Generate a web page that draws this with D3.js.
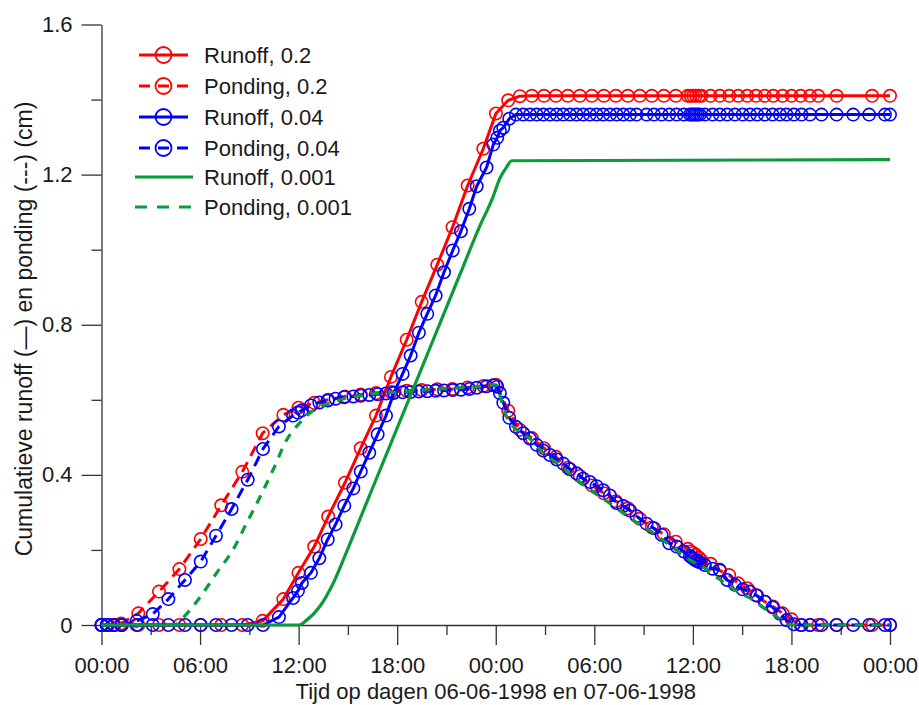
<!DOCTYPE html>
<html>
<head>
<meta charset="utf-8">
<script src="https://cdn.jsdelivr.net/npm/d3@7"></script>
<style>
  html, body { margin: 0; padding: 0; background: #fff; }
  svg text { font-family: "Liberation Sans", Arial, sans-serif; fill: #1a1a1a; }
</style>
</head>
<body>
<svg id="chart" width="919" height="705"></svg>
<script>
// Time in hours since 06-06-1998 00:00; values in cm.

// Case 0.2 (output times shared by runoff and ponding)
const redTime = [0, 0.40, 0.79, 1.19, 2.24, 3.50, 4.74, 6.04, 7.29, 8.57, 9.81, 11.07, 11.99, 12.95, 13.80,
  14.82, 15.78, 16.71, 17.62, 18.58, 19.49, 20.44, 21.37, 22.29, 23.24, 24.01, 24.76, 25.47,
  26.20, 26.94, 27.66, 28.39, 29.12, 29.85, 30.58, 31.31, 32.04, 32.77, 33.50, 34.23, 34.96, 35.69,
  35.86, 36.02, 36.18, 36.38, 36.53, 37.08, 37.64, 38.21, 38.76, 39.31, 39.84, 40.38, 40.89, 41.46,
  42.01, 42.56, 43.13, 43.63, 44.75, 46.91, 48.00];
const redRunoff = [0, 0, 0, 0, 0, 0, 0, 0, 0, 0, 0.011, 0.069, 0.139, 0.209, 0.289,
  0.379, 0.471, 0.558, 0.661, 0.76, 0.861, 0.96, 1.06, 1.171, 1.269, 1.363, 1.398, 1.409,
  1.41, 1.41, 1.41, 1.41, 1.41, 1.41, 1.41, 1.41, 1.41, 1.41, 1.41, 1.41, 1.41, 1.41,
  1.41, 1.41, 1.41, 1.41, 1.41, 1.41, 1.41, 1.41, 1.41, 1.41, 1.41, 1.41, 1.41, 1.41,
  1.41, 1.41, 1.41, 1.41, 1.41, 1.41, 1.41];
const redPonding = [0, 0, 0, 0.004, 0.031, 0.089, 0.149, 0.229, 0.319, 0.408, 0.511, 0.56, 0.579, 0.592, 0.6,
  0.609, 0.614, 0.618, 0.621, 0.624, 0.626, 0.628, 0.629, 0.633, 0.637, 0.64, 0.571, 0.52,
  0.498, 0.471, 0.448, 0.419, 0.397, 0.372, 0.351, 0.33, 0.311, 0.283, 0.26, 0.242, 0.222, 0.203,
  0.196, 0.192, 0.187, 0.179, 0.172, 0.163, 0.145, 0.133, 0.111, 0.098, 0.08, 0.062, 0.049, 0.031,
  0.015, 0, 0, 0, 0, 0, 0];

// Case 0.04
const blueTime = [0, 0.32, 0.72, 1.23, 2.14, 3.12, 4.07, 5.08, 6.04, 6.97, 7.92, 8.90, 9.83, 10.80, 11.66,
  11.96, 12.20, 12.75, 13.26, 13.77, 14.25, 14.78, 15.33, 15.78, 16.30, 16.81, 17.32, 17.80, 18.33, 18.82,
  19.32, 19.83, 20.34, 20.85, 21.38, 21.88, 22.39, 22.84, 23.44, 23.85, 24.09, 24.25, 24.46, 24.82, 25.23,
  25.67, 26.08, 26.49, 26.89, 27.30, 27.71, 28.11, 28.52, 28.92, 29.32, 29.73, 30.14, 30.54, 30.95, 31.36,
  31.76, 32.17, 32.57, 33.18, 33.63, 34.10, 34.56, 35.01, 35.45, 35.82, 35.94, 36.06, 36.18, 36.30, 36.42,
  36.73, 37.20, 37.64, 38.09, 38.56, 39.03, 39.47, 39.91, 40.38, 40.85, 41.30, 41.70, 42.15, 42.62, 43.13,
  43.83, 44.75, 45.76, 46.73, 47.69, 48.00];
const blueRunoff = [0, 0, 0, 0, 0, 0, 0, 0, 0, 0, 0, 0, 0, 0.021, 0.072,
  0.091, 0.112, 0.139, 0.178, 0.228, 0.268, 0.318, 0.364, 0.409, 0.459, 0.508, 0.558, 0.619, 0.669, 0.718,
  0.779, 0.829, 0.878, 0.94, 0.998, 1.049, 1.109, 1.169, 1.219, 1.28, 1.298, 1.317, 1.325, 1.349, 1.36,
  1.36, 1.36, 1.36, 1.36, 1.36, 1.36, 1.36, 1.36, 1.36, 1.36, 1.36, 1.36, 1.36, 1.36, 1.36,
  1.36, 1.36, 1.36, 1.36, 1.36, 1.36, 1.36, 1.36, 1.36, 1.36, 1.36, 1.36, 1.36, 1.36, 1.36,
  1.36, 1.36, 1.36, 1.36, 1.36, 1.36, 1.36, 1.36, 1.36, 1.36, 1.36, 1.36, 1.36, 1.36, 1.36,
  1.36, 1.36, 1.36, 1.36, 1.36, 1.36];
const bluePonding = [0, 0, 0, 0, 0.011, 0.029, 0.069, 0.12, 0.169, 0.238, 0.309, 0.387, 0.469, 0.529, 0.558,
  0.566, 0.572, 0.585, 0.593, 0.598, 0.603, 0.607, 0.609, 0.611, 0.613, 0.615, 0.617, 0.619, 0.62, 0.621,
  0.622, 0.623, 0.624, 0.625, 0.626, 0.627, 0.629, 0.632, 0.636, 0.639, 0.635, 0.618, 0.592, 0.552, 0.528,
  0.511, 0.497, 0.48, 0.465, 0.453, 0.441, 0.43, 0.415, 0.404, 0.39, 0.381, 0.37, 0.359, 0.345, 0.325,
  0.317, 0.305, 0.29, 0.27, 0.258, 0.24, 0.218, 0.209, 0.196, 0.184, 0.18, 0.176, 0.172, 0.17, 0.167,
  0.16, 0.15, 0.147, 0.12, 0.107, 0.095, 0.089, 0.078, 0.062, 0.047, 0.03, 0.013, 0.002, 0, 0,
  0, 0, 0, 0, 0, 0];

// Case 0.001 (fine time step, drawn as plain lines)
const greenRunoffTime = [0, 12.02, 12.49, 13.30, 14.09, 14.92, 15.73, 16.54, 18.17, 19.99, 21.82, 23.04, 23.83,
  24.25, 24.66, 24.97, 48.00];
const greenRunoff = [0, 0, 0.013, 0.05, 0.11, 0.195, 0.282, 0.369, 0.543, 0.738, 0.934, 1.064, 1.14,
  1.19, 1.22, 1.237, 1.24];
const greenPondingTime = [0, 4.47, 4.78, 5.39, 6.18, 7.01, 8.00, 8.84, 9.65, 10.44, 11.27, 12.08, 12.69, 13.30,
  14.52, 16.54, 18.17, 19.99, 21.82, 23.04, 23.83, 24.01, 24.36, 24.66, 25.27, 26.18, 26.69, 27.30, 28.01,
  28.72, 29.73, 30.65, 31.36, 32.17, 32.98, 33.59, 34.30, 35.11, 35.82, 36.63, 37.40, 38.09, 38.86, 39.67,
  40.49, 41.10, 41.70, 41.90, 48.00];
const greenPonding = [0, 0, 0.011, 0.04, 0.085, 0.139, 0.2, 0.272, 0.341, 0.413, 0.493, 0.539, 0.565, 0.581,
  0.6, 0.616, 0.621, 0.627, 0.632, 0.635, 0.64, 0.64, 0.595, 0.555, 0.52, 0.493, 0.467, 0.445, 0.422,
  0.395, 0.36, 0.333, 0.311, 0.285, 0.262, 0.245, 0.222, 0.195, 0.173, 0.154, 0.129, 0.107, 0.085, 0.067,
  0.04, 0.022, 0.005, 0, 0];

// Axis ticks
const xMajorTicks = [0, 6, 12, 18, 24, 30, 36, 42, 48];
const xMinorTicks = [3, 9, 15, 21, 27, 33, 39, 45];
const xTickLabels = ["00:00", "06:00", "12:00", "18:00", "00:00", "06:00", "12:00", "18:00", "00:00"];
const yMajorTicks = [0, 0.4, 0.8, 1.2, 1.6];
const yMinorTicks = [0.2, 0.6, 1.0, 1.4];
const yTickLabels = ["0", "0.4", "0.8", "1.2", "1.6"];

const legendLabels = ["Runoff, 0.2", "Ponding, 0.2", "Runoff, 0.04", "Ponding, 0.04", "Runoff, 0.001", "Ponding, 0.001"];
const xTitle = "Tijd op dagen 06-06-1998 en 07-06-1998";
const yTitle = "Cumulatieve runoff (\u2014) en ponding (---) (cm)";

const RED = "#ff0000", BLUE = "#0000ff", GREEN = "#0b9a3c";

const svg = d3.select("#chart");
const x = d3.scaleLinear().domain([0, 48]).range([101.5, 890]);
const y = d3.scaleLinear().domain([0, 1.6]).range([625, 24.5]);

// ---- axes ----
function styleAxis(g) {
  g.selectAll("path.domain").attr("stroke", "#333").attr("stroke-width", 1.3);
  g.selectAll(".tick line").attr("stroke", "#333").attr("stroke-width", 1.3);
  g.selectAll("text").attr("font-size", 22).attr("font-family", "Liberation Sans, Arial, sans-serif").attr("fill", "#1a1a1a");
}

const xAxisG = svg.append("g").attr("transform", `translate(0,${y(0)})`);
xAxisG.call(d3.axisBottom(x).tickValues(xMinorTicks).tickSize(10).tickSizeOuter(0).tickFormat(""));
const xMajorG = svg.append("g").attr("transform", `translate(0,${y(0)})`);
xMajorG.call(d3.axisBottom(x).tickValues(xMajorTicks).tickSize(20).tickSizeOuter(0).tickPadding(12.5)
  .tickFormat((d, i) => xTickLabels[i]));
xMajorG.select("path.domain").remove();
styleAxis(xAxisG); styleAxis(xMajorG);

const yAxisG = svg.append("g").attr("transform", `translate(${x(0)},0)`);
yAxisG.call(d3.axisLeft(y).tickValues(yMinorTicks).tickSize(10).tickSizeOuter(0).tickFormat(""));
const yMajorG = svg.append("g").attr("transform", `translate(${x(0)},0)`);
yMajorG.call(d3.axisLeft(y).tickValues(yMajorTicks).tickSize(20).tickSizeOuter(0).tickPadding(9)
  .tickFormat((d, i) => yTickLabels[i]));
yMajorG.select("path.domain").remove();
styleAxis(yAxisG); styleAxis(yMajorG);

svg.append("text").attr("x", (x(0) + x(48)) / 2).attr("y", 699).attr("text-anchor", "middle")
  .attr("font-size", 22).text(xTitle);
svg.append("text").attr("transform", "translate(31.5,329) rotate(-90)").attr("text-anchor", "middle")
  .attr("font-size", 23).text(yTitle);

// ---- series ----
const line = d3.line().x(d => x(d[0])).y(d => y(d[1]));
const smoothLine = d3.line().x(d => x(d[0])).y(d => y(d[1])).curve(d3.curveMonotoneX);

function drawSeries(times, values, color, dash, markers, width, gen) {
  const pts = d3.zip(times, values);
  const g = svg.append("g");
  g.append("path").datum(pts).attr("d", gen || line).attr("fill", "none").attr("stroke", color)
    .attr("stroke-width", width).attr("stroke-dasharray", dash || null)
    .attr("stroke-linejoin", "round");
  if (markers) {
    g.selectAll("circle").data(pts).join("circle")
      .attr("cx", d => x(d[0])).attr("cy", d => y(d[1])).attr("r", 6.2)
      .attr("fill", "none").attr("stroke", color).attr("stroke-width", 1.6);
  }
}

drawSeries(redTime, redRunoff, RED, null, true, 3);
drawSeries(redTime, redPonding, RED, "11,7", true, 3);
drawSeries(blueTime, blueRunoff, BLUE, null, true, 3);
drawSeries(blueTime, bluePonding, BLUE, "11,7", true, 3);
drawSeries(greenRunoffTime, greenRunoff, GREEN, null, false, 3.2, smoothLine);
drawSeries(greenPondingTime, greenPonding, GREEN, "9,8", false, 3.2, smoothLine);

// ---- legend ----
const legendRows = [55, 86, 117, 148, 177, 207];
const legendStyle = [
  { color: RED, dash: null, marker: true },
  { color: RED, dash: "11,27", marker: true },
  { color: BLUE, dash: null, marker: true },
  { color: BLUE, dash: "11,27", marker: true },
  { color: GREEN, dash: null, marker: false },
  { color: GREEN, dash: "12,10", marker: false }
];
const legend = svg.append("g");
legendLabels.forEach((label, i) => {
  const s = legendStyle[i];
  const yy = legendRows[i];
  const x0 = s.marker ? 139 : 135, x1 = s.marker ? 188 : 193;
  legend.append("line").attr("x1", x0).attr("x2", x1).attr("y1", yy).attr("y2", yy)
    .attr("stroke", s.color).attr("stroke-width", 3).attr("stroke-dasharray", s.dash);
  if (s.marker) {
    legend.append("circle").attr("cx", 163.5).attr("cy", yy).attr("r", 8)
      .attr("fill", "none").attr("stroke", s.color).attr("stroke-width", 1.8);
    if (s.dash) {
      legend.append("line").attr("x1", 158).attr("x2", 169).attr("y1", yy).attr("y2", yy)
        .attr("stroke", s.color).attr("stroke-width", 3);
    }
  }
  legend.append("text").attr("x", 204).attr("y", yy + 7.8).attr("font-size", 22).text(label);
});
</script>
</body>
</html>
